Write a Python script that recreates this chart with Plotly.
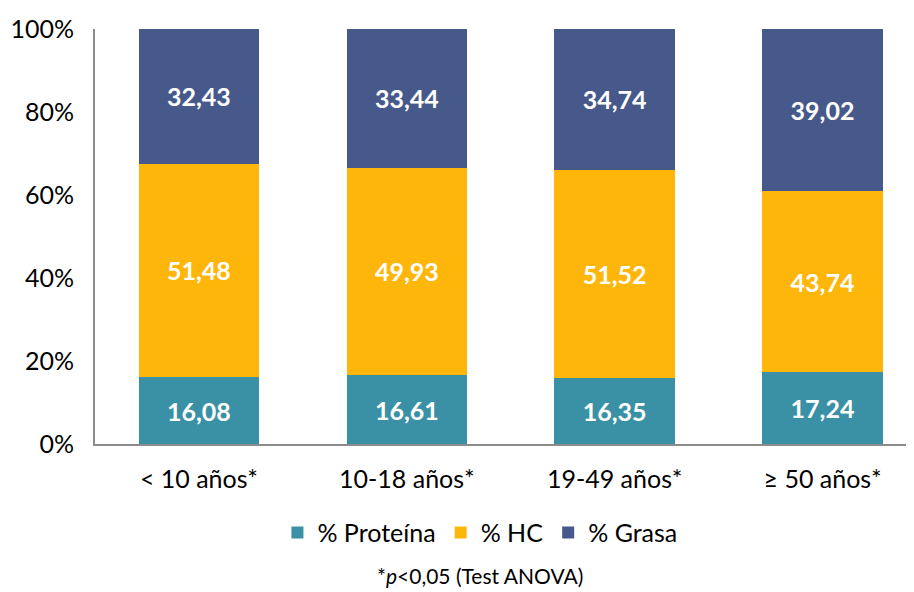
import plotly.graph_objects as go

categorias = ["< 10 años*", "10-18 años*", "19-49 años*", "≥ 50 años*"]
proteina = [16.08, 16.61, 16.35, 17.24]
hc = [51.48, 49.93, 51.52, 43.74]
grasa = [32.43, 33.44, 34.74, 39.02]
ticks_y = [0, 20, 40, 60, 80, 100]

FONT = "Lato, 'Open Sans', sans-serif"


def etiquetas(vals):
    return [f"{v:.2f}".replace(".", ",") for v in vals]


fig = go.Figure()
series = [
    ("% Proteína", proteina, "#3A91A6"),
    ("% HC", hc, "#FEB60A"),
    ("% Grasa", grasa, "#47598A"),
]
for nombre, vals, color in series:
    fig.add_trace(
        go.Bar(
            x=categorias,
            y=vals,
            name=nombre,
            marker=dict(color=color, line=dict(width=0)),
            text=etiquetas(vals),
            textposition="inside",
            insidetextanchor="middle",
            textangle=0,
            constraintext="none",
            textfont=dict(color="white", size=25, family=FONT, weight="bold"),
            hoverinfo="skip",
        )
    )

# the page body adds an 8px offset, so the figure is drawn 8px smaller
fig.update_layout(
    barmode="stack",
    barnorm="percent",
    bargap=0.42,
    width=906,
    height=584,
    margin=dict(l=87, r=0, t=21, b=148),
    plot_bgcolor="white",
    paper_bgcolor="white",
    font=dict(family=FONT, size=25, color="black"),
    showlegend=True,
    legend=dict(
        orientation="h",
        x=0.47,
        xanchor="center",
        y=-0.214,
        yanchor="middle",
        font=dict(size=25),
        traceorder="normal",
        itemwidth=30,
    ),
    annotations=[
        dict(
            text="*<i>p</i><0,05 (Test ANOVA)",
            x=0.47,
            xref="paper",
            xanchor="center",
            y=-0.318,
            yref="paper",
            yanchor="middle",
            showarrow=False,
            font=dict(size=21),
        )
    ],
)

fig.update_xaxes(
    range=[-0.5, 3.44],
    showline=True,
    linecolor="#8C8C8C",
    linewidth=2,
    ticks="",
    ticklabelstandoff=12,
    tickfont=dict(size=25),
    automargin=False,
)
fig.update_yaxes(
    range=[0, 100],
    tickmode="array",
    tickvals=ticks_y,
    ticktext=[f"{v}%" for v in ticks_y],
    showline=True,
    linecolor="#8C8C8C",
    linewidth=2,
    showgrid=False,
    zeroline=False,
    ticks="",
    ticklabelstandoff=14,
    tickfont=dict(size=25),
    automargin=False,
)

fig.write_html("out.html")
